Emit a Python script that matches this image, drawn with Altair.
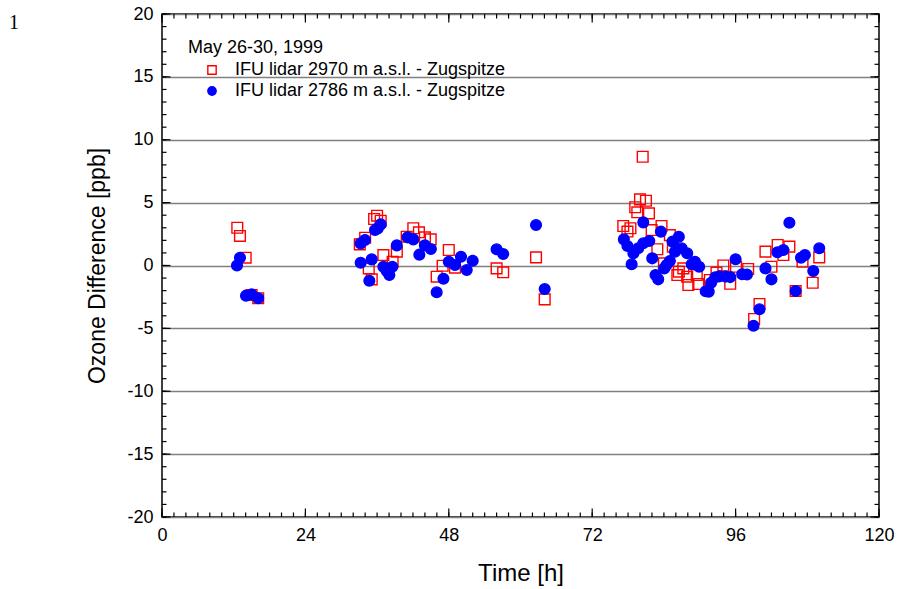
import altair as alt
import pandas as pd

# ---- data ----
red_t = [12.6, 13.05, 14.0, 15.0, 16.1,
         33.1, 34.0, 34.6, 35.1, 35.5, 36.0, 36.6, 37.05, 38.6, 39.3, 40.95, 42.06, 43.0,
         44.0, 44.97, 45.97, 46.97, 48.0, 49.04, 56.0, 57.1, 62.6, 64.05,
         77.2, 77.9, 78.4, 79.2, 79.55, 80.0, 80.45, 81.0, 81.5, 81.95, 82.9, 83.6, 84.0,
         85.0, 85.5, 86.25, 86.5, 87.25, 87.9, 88.1, 89.5, 89.75, 91.7, 92.8, 93.95, 95.1,
         96.07, 98.1, 99.1, 100.0, 101.0, 102.0, 103.04, 104.0, 105.0, 106.05, 107.2,
         108.9, 110.0]
red_v = [3.0, 2.35, 0.62, -2.35, -2.6,
         1.68, 2.21, -0.23, -1.1, 3.7, 3.96, 3.56, 0.83, 0.3, 1.1, 2.29, 2.96, 2.64,
         2.24, 2.08, -0.89, -0.02, 1.23, -0.17, -0.23, -0.54, 0.65, -2.69,
         3.14, 2.7, 2.96, 4.63, 4.23, 5.26, 8.65, 5.15, 4.15, 2.82, 1.29, 3.14, 0.17,
         2.42, 1.5, -0.76, -0.49, -0.23, -0.89, -1.55, -0.76, -1.47, -1.15, -0.57, 0.0, -1.45,
         -0.1, -0.28, -4.25, -3.06, 1.1, -0.1, 1.63, 0.83, 1.5, -2.03, 0.3,
         -1.37, 0.65]

blue_t = [12.55, 13.05, 14.06, 15.0, 16.1,
          33.25, 33.97, 33.25, 35.1, 34.7, 35.65, 36.1, 36.6, 37.05, 37.6, 38.05, 38.55,
          39.3, 41.1, 42.06, 43.07, 44.0, 45.0, 45.97, 47.1, 48.0, 49.04, 50.04, 51.0,
          52.0, 56.0, 57.1, 62.6, 64.05,
          77.3, 77.9, 78.6, 78.9, 79.7, 80.55, 80.55, 81.55, 82.05, 82.6, 83.05, 83.5,
          84.05, 84.45, 85.0, 85.45, 85.85, 86.5, 86.97, 87.9, 88.65, 89.2, 89.9,
          91.0, 91.5, 91.9, 92.6, 93.3, 94.3, 95.1, 96.0, 97.1, 97.9,
          99.0, 100.0, 101.0, 102.0, 103.0, 104.0, 105.0, 106.05, 106.95, 107.6, 109.0, 110.0]
blue_v = [0.0, 0.62, -2.4, -2.3, -2.6,
          1.76, 2.03, 0.22, 0.49, -1.21, 2.82, 2.95, 3.27, -0.1, -0.44, -0.76, -0.1,
          1.6, 2.24, 2.08, 0.86, 1.6, 1.31, -2.13, -1.05, 0.3, 0.04, 0.7, -0.36,
          0.38, 1.29, 0.91, 3.22, -1.87,
          2.08, 1.55, 0.1, 0.97, 1.37, 3.43, 1.77, 1.95, 0.57, -0.76, -1.1, 2.69,
          -0.23, 0.04, 0.36, 1.9, 1.1, 2.29, 1.37, 0.97, 0.1, 0.3, -0.1,
          -2.05, -2.08, -1.37, -0.94, -0.86, -0.88, -0.92, 0.5, -0.7, -0.72,
          -4.79, -3.48, -0.23, -1.1, 1.05, 1.23, 3.4, -2.03, 0.62, 0.83, -0.44, 1.37]

series_names = ["IFU lidar 2970 m a.s.l. - Zugspitze", "IFU lidar 2786 m a.s.l. - Zugspitze"]
legend_title = "May 26-30, 1999"

x_major = [0, 24, 48, 72, 96, 120]
x_minor = list(range(0, 121, 2))
y_major = [-20, -15, -10, -5, 0, 5, 10, 15, 20]
y_minor = list(range(-20, 21, 1))

# ---- layout ----
W, H = 717, 503
FONT = "Liberation Sans"
LABEL_EXPR = "datum.value < 0 ? '-' + abs(datum.value) : '' + datum.value"

df = pd.DataFrame({
    "t": red_t + blue_t,
    "v": red_v + blue_v,
    "s": [series_names[0]] * len(red_t) + [series_names[1]] * len(blue_t),
})

xs = alt.Scale(domain=[0, 120], nice=False, zero=False)
ys = alt.Scale(domain=[-20, 20], nice=False, zero=False)

x_axis = alt.Axis(title="Time [h]", values=x_major, ticks=False, domain=False,
                  grid=False, labelFontSize=18, labelPadding=9, titleFontSize=24,
                  titleFontWeight="normal", titlePadding=17, labelColor="black",
                  titleColor="black", labelFont=FONT, titleFont=FONT,
                  labelFlush=False, labelBound=False, labelOverlap=False, labelExpr=LABEL_EXPR)
y_axis = alt.Axis(title="Ozone Difference [ppb]", values=y_major, ticks=False,
                  domain=False, grid=True, gridColor="#808080", gridWidth=1.3,
                  labelFontSize=18, labelPadding=9, titleFontSize=23,
                  titleFontWeight="normal", titlePadding=17, labelColor="black",
                  titleColor="black", labelFont=FONT, titleFont=FONT,
                  labelFlush=False, labelBound=False, labelOverlap=False, labelExpr=LABEL_EXPR)

points = alt.Chart(df).mark_point(size=115, strokeWidth=1.4, opacity=1).encode(
    x=alt.X("t:Q", scale=xs, axis=x_axis),
    y=alt.Y("v:Q", scale=ys, axis=y_axis),
    shape=alt.Shape("s:N", scale=alt.Scale(domain=series_names, range=["square", "circle"]),
                    legend=alt.Legend(title=legend_title, orient="none", legendX=26, legendY=25,
                                      titleFontSize=18, titleFontWeight="normal",
                                      labelFontSize=18, titleFont=FONT, labelFont=FONT,
                                      titleColor="black", labelColor="black",
                                      symbolSize=70, symbolOffset=15, labelOffset=14,
                                      rowPadding=3, titlePadding=4, padding=0,
                                      symbolStrokeWidth=1.4, labelLimit=400)),
    stroke=alt.Stroke("s:N", scale=alt.Scale(domain=series_names, range=["#ff0000", "#0000ff"]),
                      legend=alt.Legend(title=legend_title)),
    fill=alt.Fill("s:N", scale=alt.Scale(domain=series_names, range=["transparent", "#0000ff"]),
                  legend=alt.Legend(title=legend_title)),
    order=alt.Order("idx:Q"),
).transform_window(idx="row_number()")

def tick_layer(values, length, side):
    d = pd.DataFrame({"p": values})
    base = alt.Chart(d).mark_rule(color="black", strokeWidth=1.2)
    if side == "bottom":
        return base.encode(x=alt.X("p:Q", scale=xs, axis=x_axis), y=alt.value(H), y2=alt.value(H - length))
    if side == "top":
        return base.encode(x=alt.X("p:Q", scale=xs, axis=x_axis), y=alt.value(0), y2=alt.value(length))
    if side == "left":
        return base.encode(y=alt.Y("p:Q", scale=ys, axis=y_axis), x=alt.value(0), x2=alt.value(length))
    return base.encode(y=alt.Y("p:Q", scale=ys, axis=y_axis), x=alt.value(W), x2=alt.value(W - length))

ticks = []
for side in ["bottom", "top"]:
    ticks.append(tick_layer(x_minor, 4.5, side))
    ticks.append(tick_layer(x_major, 8.5, side))
for side in ["left", "right"]:
    ticks.append(tick_layer(y_minor, 4.5, side))
    ticks.append(tick_layer(y_major, 8.5, side))

page_no = alt.Chart(pd.DataFrame({"k": ["1"]})).mark_text(
    font="Liberation Serif", fontSize=20, align="left", baseline="alphabetic", color="black"
).encode(x=alt.value(-153), y=alt.value(15), text="k:N")

chart = alt.layer(points, *ticks, page_no).properties(
    width=W, height=H,
    background="white",
    autosize=alt.AutoSizeParams(type="none"),
    padding={"left": 162, "top": 14, "right": 20, "bottom": 72},
).configure_view(stroke="black", strokeWidth=1.5)

chart.save("out.html", embed_options={"renderer": "svg", "actions": False})
